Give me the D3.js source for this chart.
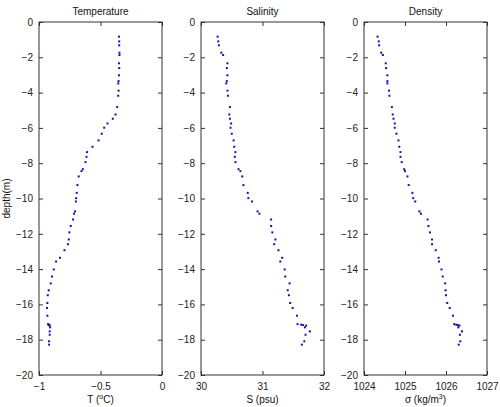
<!DOCTYPE html>
<html>
<head>
<meta charset="utf-8">
<script src="https://cdn.jsdelivr.net/npm/d3@7"></script>
<style>
  body { margin: 0; background: #fff; }
  text { font-family: "Liberation Sans", Arial, sans-serif; }
</style>
</head>
<body>
<div id="wrapper"></div>
<script>
// CTD cast: depth (m) shared by all three profiles
const depth = [-0.83,-1.10,-1.32,-1.74,-1.87,-2.34,-2.61,-3.02,-3.35,-3.48,-3.89,-4.18,
  -4.82,-5.24,-5.48,-5.75,-5.99,-6.33,-6.71,-7.07,-7.37,-7.64,-7.94,-8.34,-8.45,-8.75,-9.24,-9.68,-9.98,-10.17,
  -10.73,-10.86,-11.19,-11.56,-11.92,-12.32,-12.59,-12.93,-13.36,-13.57,-14.02,-14.42,-14.81,-15.20,-15.48,-15.92,-16.20,-16.64,
  -17.12,-17.15,-17.17,-17.20,
  -17.30,-17.53,-17.72,-18.09,-18.28];

const temperature = [-0.35,-0.348,-0.348,-0.346,-0.346,-0.35,-0.348,-0.35,-0.353,-0.356,-0.353,-0.356,
  -0.364,-0.378,-0.40,-0.443,-0.47,-0.49,-0.516,-0.565,-0.609,-0.614,-0.622,-0.644,-0.655,-0.677,-0.6875,-0.693,-0.698,-0.70,
  -0.707,-0.715,-0.723,-0.742,-0.753,-0.758,-0.764,-0.793,-0.829,-0.861,-0.880,-0.894,-0.905,-0.921,-0.929,-0.932,-0.935,-0.932,
  -0.926,-0.922,-0.916,-0.914,
  -0.910,-0.913,-0.913,-0.918,-0.918];

const salinity = [30.27,30.28,30.29,30.33,30.36,30.43,30.42,30.43,30.42,30.41,30.43,30.44,
  30.47,30.46,30.47,30.49,30.48,30.50,30.53,30.54,30.56,30.55,30.56,30.61,30.64,30.67,30.69,30.76,30.77,30.83,
  30.92,30.95,31.14,31.14,31.16,31.21,31.19,31.26,31.32,31.29,31.36,31.37,31.44,31.41,31.43,31.45,31.49,31.56,
  31.57,31.63,31.66,31.71,
  31.69,31.77,31.70,31.68,31.64];

const density = [1024.33,1024.36,1024.37,1024.42,1024.46,1024.53,1024.54,1024.57,1024.57,1024.57,1024.61,1024.62,
  1024.68,1024.70,1024.72,1024.75,1024.75,1024.79,1024.84,1024.86,1024.89,1024.89,1024.92,1024.98,1025.00,1025.06,1025.09,1025.18,1025.20,1025.25,
  1025.35,1025.39,1025.55,1025.57,1025.61,1025.66,1025.66,1025.75,1025.82,1025.83,1025.89,1025.92,1025.98,1025.99,1026.00,1026.03,1026.09,1026.17,
  1026.20,1026.25,1026.29,1026.33,
  1026.30,1026.39,1026.34,1026.35,1026.31];

const depthTicks = [0, -2, -4, -6, -8, -10, -12, -14, -16, -18, -20];
const panelTitles = ["Temperature", "Salinity", "Density"];
const panelDomains = [[-1, 0], [30, 32], [1024, 1027]];
const panelTicks = [[-1, -0.5, 0], [30, 31, 32], [1024, 1025, 1026, 1027]];
const panelValues = [temperature, salinity, density];

function drawChart() {
  const dimensions = {
    width: 500,
    height: 407,
    top: 22,
    bottom: 375,
    panelLefts: [39, 201, 364],
    panelWidth: 123,
  };
  const boundedHeight = dimensions.bottom - dimensions.top;

  const svg = d3.select("#wrapper")
    .append("svg")
    .attr("width", dimensions.width)
    .attr("height", dimensions.height);

  const yScale = d3.scaleLinear()
    .domain([-20, 0])
    .range([boundedHeight, 0]);

  const fmt = (d) => d3.format("")(d).replace("-", "\u2212");

  panelTitles.forEach((title, i) => {
    const g = svg.append("g")
      .attr("transform", `translate(${dimensions.panelLefts[i]},${dimensions.top})`);

    const xScale = d3.scaleLinear()
      .domain(panelDomains[i])
      .range([0, dimensions.panelWidth]);

    // axes with inward ticks on all four sides
    const styleAxis = (sel) => {
      sel.select(".domain").remove();
      sel.selectAll(".tick line").attr("stroke", "#333");
      sel.selectAll(".tick text")
        .attr("fill", "#222")
        .style("font-size", "10px")
        .style("font-family", "'Liberation Sans', Arial, sans-serif");
    };

    g.append("g")
      .call(d3.axisLeft(yScale).tickValues(depthTicks).tickFormat(fmt)
        .tickSizeInner(-4).tickSizeOuter(0).tickPadding(6))
      .call(styleAxis);

    g.append("g")
      .attr("transform", `translate(${dimensions.panelWidth},0)`)
      .call(d3.axisRight(yScale).tickValues(depthTicks).tickFormat("")
        .tickSizeInner(-4).tickSizeOuter(0))
      .call(styleAxis);

    g.append("g")
      .attr("transform", `translate(0,${boundedHeight})`)
      .call(d3.axisBottom(xScale).tickValues(panelTicks[i]).tickFormat(fmt)
        .tickSizeInner(-4).tickSizeOuter(0).tickPadding(8))
      .call(styleAxis);

    g.append("g")
      .call(d3.axisTop(xScale).tickValues(panelTicks[i]).tickFormat("")
        .tickSizeInner(-4).tickSizeOuter(0))
      .call(styleAxis);

    // box
    g.append("rect")
      .attr("width", dimensions.panelWidth)
      .attr("height", boundedHeight)
      .attr("fill", "none")
      .attr("stroke", "#333")
      .attr("stroke-width", 1);

    // data points
    const values = panelValues[i];
    g.append("g")
      .selectAll("rect")
      .data(depth)
      .join("rect")
      .attr("x", (d, j) => xScale(values[j]) - 1)
      .attr("y", (d) => yScale(d) - 1)
      .attr("width", 2)
      .attr("height", 2)
      .attr("fill", "#1414a8");

    // title
    g.append("text")
      .attr("x", dimensions.panelWidth / 2)
      .attr("y", -7)
      .attr("text-anchor", "middle")
      .style("font-size", "10px")
      .attr("fill", "#111")
      .text(title);
  });

  // x labels with superscripts
  const labelY = 403;
  const cx = (i) => dimensions.panelLefts[i] + dimensions.panelWidth / 2;

  const tLabel = svg.append("text")
    .attr("x", cx(0)).attr("y", labelY)
    .attr("text-anchor", "middle")
    .style("font-size", "10px").attr("fill", "#111");
  tLabel.append("tspan").text("T (");
  tLabel.append("tspan").attr("dy", -4).style("font-size", "7px").text("o");
  tLabel.append("tspan").attr("dy", 4).text("C)");

  svg.append("text")
    .attr("x", cx(1)).attr("y", labelY)
    .attr("text-anchor", "middle")
    .style("font-size", "10px").attr("fill", "#111")
    .text("S (psu)");

  const dLabel = svg.append("text")
    .attr("x", cx(2)).attr("y", labelY)
    .attr("text-anchor", "middle")
    .style("font-size", "10px").attr("fill", "#111");
  dLabel.append("tspan").text("\u03c3 (kg/m");
  dLabel.append("tspan").attr("dy", -4).style("font-size", "7px").text("3");
  dLabel.append("tspan").attr("dy", 4).text(")");

  // y label
  svg.append("text")
    .attr("transform", `translate(10,${dimensions.top + boundedHeight / 2}) rotate(-90)`)
    .attr("text-anchor", "middle")
    .style("font-size", "10px").attr("fill", "#111")
    .text("depth(m)");
}

drawChart();
</script>
</body>
</html>
